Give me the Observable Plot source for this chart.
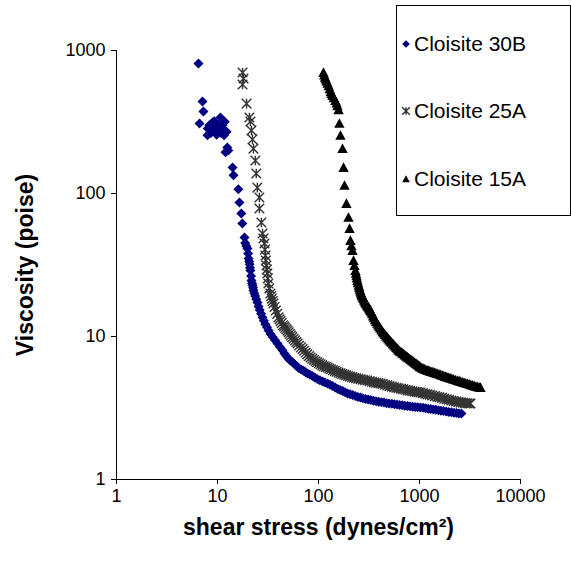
<!DOCTYPE html>
<html><head><meta charset="utf-8">
<script src="https://cdn.jsdelivr.net/npm/d3@7"></script>
<script src="https://cdn.jsdelivr.net/npm/@observablehq/plot@0.6"></script>
<style>
body{margin:0;background:#fff;}
#wrap{position:relative;width:571px;height:564px;font-family:"Liberation Sans",Arial,sans-serif;}
#legend{position:absolute;left:396px;top:5px;width:175px;height:211px;border:1px solid #000;background:#fff;box-sizing:border-box;}
.item{position:absolute;left:4px;font-size:21px;line-height:22px;height:22px;display:flex;align-items:center;white-space:nowrap;}
.item svg{margin-right:3px;}
</style></head>
<body><div id="wrap"></div>
<script>
// ---- data ----
const seriesNames = ["Cloisite 30B", "Cloisite 25A", "Cloisite 15A"];
const xTicks = [1, 10, 100, 1000, 10000];
const yTicks = [1, 10, 100, 1000];
const xTitle = "shear stress (dynes/cm\u00B2)";
const yTitle = "Viscosity (poise)";

const x30B = [6.48,7.10,7.26,6.63,7.96,8.92,10.7,10.0,11.4,9.4,10.3,11.0,12.0,8.6,9.8,11.8,8.3,9.0,9.6,10.2,10.8,11.6,12.3,9.3,8.0,11.2,12.5,12.0,12.8,14.1,14.4,16.1,16.5,17.2,17.6,18.5,
  18.8,19.3,19.8,20.1,20.3,20.6,20.8,21.0,21.2,21.5,21.7,22.0,22.2,22.5,22.7,23.1,23.6,24.2,24.9,25.5,26.2,27.0,27.9,28.8,29.8,30.9,32.0,33.5,35.2,37.1,39.2,41.5,44,46,48,50.3,52.7,55.3,58,61,64,67.5,71,74.5,78,82.5,87,92,97,103,110,116,123,130,138,146,155,164,173,183,194,206,218,231,245,260,275,292,310,330,350,372,395,420,445,472,500,532,565,600,635,675,715,760,805,855,905,960,1020,1085,1150,1220,1290,1370,1450,1540,1630,1730,1840,1950,2070,2200,2330,2460,2600];
const y30B = [811,440,374,309,255,314,340,276,263,295,300,285,272,265,258,318,300,280,270,290,265,255,270,320,285,300,210,194,200,152,134,107,86.5,72.4,61.7,49.3,
  45,43,41.3,38,35.1,33.5,32,30.3,28.9,26.5,24.6,23.6,22.8,21.9,21.0,20.1,19.2,18.2,17.3,16.2,15.3,14.4,13.6,12.9,12.2,11.6,11.0,10.4,9.9,9.4,8.93,8.45,8.0,7.6,7.3,7.0,6.79,6.6,6.4,6.2,6.0,5.87,5.75,5.62,5.51,5.4,5.3,5.17,5.05,4.95,4.85,4.77,4.69,4.6,4.5,4.4,4.3,4.22,4.15,4.07,3.99,3.94,3.9,3.84,3.78,3.74,3.7,3.66,3.62,3.59,3.56,3.53,3.5,3.47,3.45,3.42,3.4,3.38,3.36,3.34,3.32,3.3,3.28,3.26,3.25,3.23,3.22,3.2,3.19,3.17,3.15,3.13,3.11,3.09,3.07,3.05,3.03,3.01,2.99,2.97,2.95,2.93,2.92,2.9,2.89];

const x25A = [17.7,18.1,17.7,19.4,20.7,21.2,21.7,22.2,22.7,23.7,24.2,24.8,26.0,26.0,27.2,27.9,28.5,29.2,29.5,29.8,30.1,30.5,30.8,31.2,31.5,31.9,32.6,33.4,34.0,34.5,35.2,35.8,36.8,37.8,39.0,40.2,41.2,42.2,43.3,44.5,45.6,46.8,48.1,49.4,50.7,52,53.5,55,56.7,58.5,60.3,62.1,64.5,67,69.5,72,74.7,77.5,80.5,83.5,86.7,90,93.5,97,101,105,109,113,118,123,128,133,139,145,151,158,165,172,180,188,196,205,215,225,236,248,261,275,290,305,321,338,355,373,392,411,432,455,480,505,532,560,590,620,655,690,727,765,805,850,895,940,980,1023,1080,1140,1200,1270,1340,1420,1500,1580,1670,1760,1860,1960,2070,2180,2300,2430,2560,2700,2840,2980,3100,3199];
const y25A = [702,637,578,425,340,319,276,239,206,170,138,110,93.7,78.5,62.7,52.5,48.5,44.7,40.5,36.8,34,31.4,29.4,27.6,25.5,23.5,21.7,20.0,19.2,18.4,17.7,17.0,16.1,15.2,14.4,13.6,13.2,12.8,12.4,12.0,11.75,11.5,11.25,11.0,10.7,10.4,10.15,9.9,9.65,9.4,9.15,8.93,8.65,8.4,8.17,7.95,7.72,7.5,7.3,7.13,6.98,6.85,6.72,6.6,6.5,6.4,6.3,6.2,6.13,6.07,5.98,5.9,5.82,5.75,5.67,5.6,5.53,5.47,5.41,5.36,5.3,5.25,5.2,5.15,5.1,5.06,5.02,4.98,4.95,4.92,4.87,4.82,4.78,4.75,4.72,4.69,4.65,4.6,4.55,4.5,4.46,4.42,4.38,4.35,4.31,4.28,4.24,4.2,4.17,4.14,4.11,4.09,4.07,4.06,4.02,3.98,3.94,3.91,3.87,3.83,3.79,3.76,3.72,3.68,3.64,3.61,3.57,3.54,3.51,3.48,3.46,3.44,3.42,3.41,3.40,3.40];

const x15A = [112,114,116,118,120,123,126,129,132,135,138,142,147,151,154,158,161,165,173,177,181,189,198,203,207,212,217,222,227,232,235,238,240,243,246,250,253,256,260,263,267,271,275,279,283,288,292,297,302,307,312,317,322,327,333,340,347,355,363,372,381,390,400,411,421,432,443,455,467,480,492,505,517,530,545,560,575,590,605,620,637,655,675,695,715,735,757,780,802,825,850,875,900,925,952,980,1000,1023,1055,1085,1117,1150,1185,1220,1260,1300,1350,1400,1450,1507,1560,1620,1680,1740,1800,1870,1940,2010,2090,2170,2270,2378,2470,2560,2660,2760,2870,2980,3100,3220,3350,3480,3620,3760,3890,4017];
const y15A = [702,672,650,630,612,590,566,540,515,497,484,466,447,428,410,385,309,255,206,152,114,85.1,68,56.9,46.9,43,39.9,34.0,31.3,28.9,27.7,26.6,25.6,24.6,23.7,22.8,22.1,21.4,20.7,20.1,19.6,19.2,18.8,18.4,18.0,17.6,17.2,16.9,16.6,16.3,16.05,15.8,15.5,15.2,14.8,14.4,13.9,13.5,13.1,12.7,12.35,12.0,11.7,11.4,11.1,10.8,10.55,10.3,10.07,9.85,9.65,9.45,9.27,9.1,8.9,8.7,8.52,8.35,8.2,8.05,7.92,7.8,7.67,7.55,7.42,7.3,7.19,7.08,6.97,6.87,6.76,6.66,6.56,6.47,6.37,6.28,6.19,6.1,6.04,5.98,5.92,5.87,5.82,5.78,5.73,5.69,5.64,5.6,5.55,5.5,5.45,5.4,5.35,5.3,5.25,5.21,5.16,5.12,5.07,5.02,4.97,4.92,4.88,4.84,4.8,4.76,4.72,4.68,4.64,4.6,4.56,4.52,4.48,4.45,4.42,4.40];

// ---- marker shapes ----
const diamondSym = {draw(c, s){ const h = Math.sqrt(s/Math.PI); c.moveTo(0,-h); c.lineTo(h,0); c.lineTo(0,h); c.lineTo(-h,0); c.closePath(); }};
const starSym = {draw(c, s){ const h = Math.sqrt(s/Math.PI); c.moveTo(-h,-h); c.lineTo(h,h); c.moveTo(-h,h); c.lineTo(h,-h); c.moveTo(0,-h); c.lineTo(0,h); }};
const triSym = {draw(c, s){ const h = Math.sqrt(s/Math.PI); c.moveTo(0,-h); c.lineTo(h,h*0.85); c.lineTo(-h,h*0.85); c.closePath(); }};

const styles = [
  {symbol: diamondSym, fill: "#000080", stroke: "none", strokeWidth: 0, r: 5},
  {symbol: starSym, fill: "none", stroke: "#333333", strokeWidth: 1.4, r: 4.8},
  {symbol: triSym, fill: "#000000", stroke: "none", strokeWidth: 0, r: 5.2}
];
const xs = [x30B, x25A, x15A], ys = [y30B, y25A, y15A];
const data = xs.map((xa, k) => xa.map((x, i) => ({x, y: ys[k][i]})));

const chart = Plot.plot({
  width: 571, height: 564,
  marginLeft: 116, marginRight: 51, marginTop: 50, marginBottom: 85,
  style: {fontFamily: '"Liberation Sans", Arial, sans-serif', background: "#fff", color: "#000"},
  x: {type: "log", domain: [1, 10000]},
  y: {type: "log", domain: [1, 1000]},
  marks: [
    Plot.ruleY([1], {stroke: "#000", strokeWidth: 1}),
    Plot.ruleX([1], {stroke: "#000", strokeWidth: 1}),
    Plot.axisX(xTicks, {tickFormat: d => String(d), tickSize: 5, tickPadding: 5, fontSize: 18, label: null}),
    Plot.axisY(yTicks, {tickFormat: d => String(d), tickSize: 5, tickPadding: 6, fontSize: 18, label: null}),
    ...data.map((d, k) => Plot.dot(d, {x: "x", y: "y", ...styles[k]})),
    Plot.text([yTitle], {frameAnchor: "left", textAnchor: "middle", lineAnchor: "middle", dx: -91, rotate: -90, fontSize: 23, fontWeight: "bold"}),
    Plot.text([xTitle], {frameAnchor: "bottom", textAnchor: "middle", lineAnchor: "middle", dy: 48, fontSize: 23, fontWeight: "bold"})
  ]
});
const wrap = document.getElementById("wrap");
wrap.appendChild(chart);

// ---- legend ----
const legend = document.createElement("div");
legend.id = "legend";
const itemTops = [27, 94, 162];
seriesNames.forEach((name, k) => {
  const it = document.createElement("div");
  it.className = "item";
  it.style.top = itemTops[k] + "px";
  const st = styles[k];
  const p = d3.path();
  st.symbol.draw(p, 3.8*3.8*Math.PI);
  it.innerHTML = `<svg width="10" height="10" viewBox="-5 -5 10 10"><path d="${p}" fill="${st.fill}" stroke="${st.stroke}" stroke-width="${st.strokeWidth}"/></svg><span>${name}</span>`;
  legend.appendChild(it);
});
wrap.appendChild(legend);
</script>
</body></html>
